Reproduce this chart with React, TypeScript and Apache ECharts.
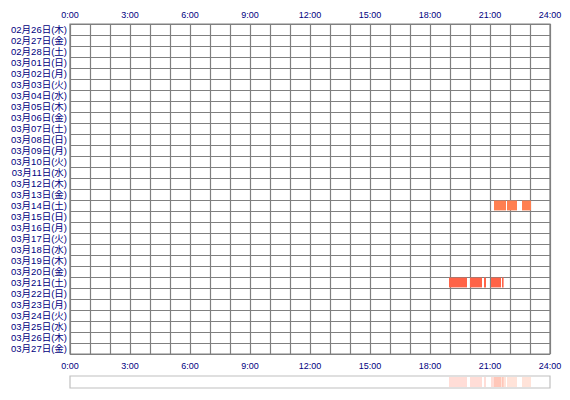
import { useEffect, useRef } from "react";
import * as echarts from "echarts";

const days = [
  "02月26日(木)", "02月27日(金)", "02月28日(土)", "03月01日(日)", "03月02日(月)",
  "03月03日(火)", "03月04日(水)", "03月05日(木)", "03月06日(金)", "03月07日(土)",
  "03月08日(日)", "03月09日(月)", "03月10日(火)", "03月11日(水)", "03月12日(木)",
  "03月13日(金)", "03月14日(土)", "03月15日(日)", "03月16日(月)", "03月17日(火)",
  "03月18日(水)", "03月19日(木)", "03月20日(金)", "03月21日(土)", "03月22日(日)",
  "03月23日(月)", "03月24日(火)", "03月25日(水)", "03月26日(木)", "03月27日(金)",
];

// one entry per online session: day index, start hour, end hour
const sessionDay = [16, 16, 16, 23, 23, 23, 23, 23];
const sessionStart = [21.2, 21.85, 22.6, 18.95, 20.0, 20.7, 21.05, 21.6];
const sessionEnd = [21.8, 22.35, 23.05, 19.85, 20.6, 20.8, 21.55, 21.68];

const dayColor = (d: number) => (d === 16 ? "#ff7f50" : "#ff6347");

export default function App() {
  const ref = useRef<HTMLDivElement>(null);

  useEffect(() => {
    if (!ref.current) return;
    const chart = echarts.init(ref.current, null, { renderer: "svg" });

    const data = sessionDay.map((d, i) => [d, sessionStart[i], sessionEnd[i]]);

    const hourAxis = (position: "top" | "bottom", split: boolean) => ({
      type: "value",
      gridIndex: 0,
      position,
      min: 0,
      max: 24,
      interval: 1,
      axisLine: { show: false },
      axisTick: { show: false },
      axisLabel: {
        color: "#000080",
        fontSize: 9,
        fontFamily: "Liberation Sans",
        margin: position === "top" ? 5 : 7,
        formatter: (v: number) => (v % 3 === 0 ? `${v}:00` : ""),
      },
      splitLine: { show: split, lineStyle: { color: "#808080", width: 1.2 } },
    });

    chart.setOption({
      animation: false,
      backgroundColor: "#ffffff",
      grid: [
        {
          left: 70,
          top: 24,
          width: 480,
          height: 330,
          show: true,
          borderColor: "#808080",
          borderWidth: 1.2,
        },
        {
          left: 70,
          top: 376,
          width: 480,
          height: 12,
          show: true,
          borderColor: "#c0c0c0",
          borderWidth: 1.2,
        },
      ],
      xAxis: [
        hourAxis("top", true),
        hourAxis("bottom", false),
        { type: "value", gridIndex: 1, min: 0, max: 24, show: false },
      ],
      yAxis: [
        {
          type: "category",
          gridIndex: 0,
          data: days,
          inverse: true,
          axisLine: { show: false },
          axisTick: { show: false },
          axisLabel: {
            interval: 0,
            color: "#000080",
            fontSize: 9.5,
            lineHeight: 10,
            fontFamily: "Liberation Sans, 'Noto Sans CJK JP'",
            margin: 3,
          },
          splitLine: {
            show: true,
            interval: 0,
            lineStyle: { color: "#808080", width: 1.2 },
          },
        },
        { type: "value", gridIndex: 1, min: 0, max: 1, show: false },
      ],
      series: [
        {
          type: "custom",
          xAxisIndex: 0,
          yAxisIndex: 0,
          data,
          renderItem: (_p: any, api: any) => {
            const d = api.value(0);
            const a = api.coord([api.value(1), d]);
            const b = api.coord([api.value(2), d]);
            const h = api.size([0, 1])[1];
            return {
              type: "rect",
              shape: { x: a[0], y: a[1] - h / 2 + 0.6, width: b[0] - a[0], height: h - 1.2 },
              style: { fill: dayColor(d) },
            };
          },
          z: 3,
        },
        {
          type: "custom",
          xAxisIndex: 2,
          yAxisIndex: 1,
          data,
          renderItem: (_p: any, api: any) => {
            const a = api.coord([api.value(1), 1]);
            const b = api.coord([api.value(2), 0]);
            return {
              type: "rect",
              shape: { x: a[0], y: a[1] + 1, width: b[0] - a[0], height: b[1] - a[1] - 2 },
              style: { fill: dayColor(api.value(0)), opacity: 0.22 },
            };
          },
        },
      ],
    });

    return () => chart.dispose();
  }, []);

  return (
    <div
      ref={ref}
      style={{ position: "absolute", left: 0, top: 0, width: 570, height: 400 }}
    />
  );
}
